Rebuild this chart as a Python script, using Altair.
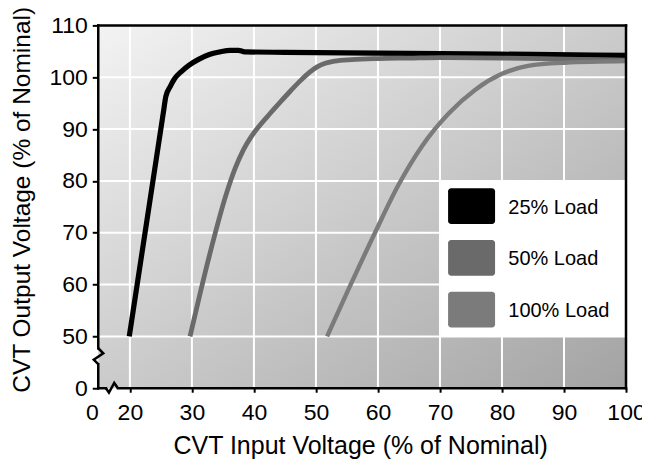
import altair as alt
import pandas as pd

FONT = "Liberation Sans"

# ---- data ----
load_labels = ["25% Load", "50% Load", "100% Load"]
load_colors = ["#000000", "#6a6a6a", "#7b7b7b"]
load_widths = [5.2, 4.4, 4.4]

x_25 = [19.9, 25.4, 25.8, 26.5, 27.2, 28.3, 29.5, 31.0, 32.8, 34.5, 36.2, 37.5, 38.5, 45, 55, 65, 75, 85, 100]
y_25 = [50, 93.2, 96.3, 98.2, 99.7, 101.1, 102.3, 103.4, 104.4, 104.9, 105.2, 105.2, 104.9, 104.8, 104.7, 104.6, 104.5, 104.4, 104.2]

x_50 = [29.7, 32.8, 35.5, 37.0, 38.3, 39.6, 41.0, 42.6, 44.1, 45.7, 47.3, 48.9, 50.2, 51.5, 53.0, 55.8, 60, 65, 70, 80, 90, 100]
y_50 = [50, 65.5, 77.3, 82.5, 86.0, 88.6, 90.8, 93.0, 95.0, 97.1, 99.1, 100.9, 102.0, 102.7, 103.1, 103.4, 103.6, 103.7, 103.8, 103.7, 103.5, 103.3]

x_100 = [51.8, 55.3, 59.6, 63.3, 67.1, 71.4, 75.7, 79.9, 84.2, 90.1, 100]
y_100 = [50, 59.2, 70.2, 79.2, 86.7, 93.0, 97.6, 100.6, 102.2, 102.8, 103.1]

x_ticks = [20, 30, 40, 50, 60, 70, 80, 90, 100]
y_ticks = [50, 60, 70, 80, 90, 100, 110]
x_break_tick = 14.9   # labelled "0" (axis break)
y_break_tick = 40     # labelled "0" (axis break)

rows = []
for lab, xs_, ys_ in zip(load_labels, [x_25, x_50, x_100], [y_25, y_50, y_100]):
    for a, b in zip(xs_, ys_):
        rows.append({"load": lab, "x": a, "y": b})
curves = pd.DataFrame(rows)
xgrid = pd.DataFrame({"v": x_ticks[:-1]})
ygrid = pd.DataFrame({"v": y_ticks[:-1]})
one = pd.DataFrame({"k": [0]})
legend_df = pd.DataFrame({"load": load_labels})

# ---- layout ----
W, H = 528, 363

xs = alt.Scale(domain=[x_break_tick, 100], nice=False, zero=False)
ys = alt.Scale(domain=[y_break_tick, 110], nice=False, zero=False)

x_axis = alt.Axis(
    values=[x_break_tick] + x_ticks,
    labelExpr="datum.value < 15 ? '0' : datum.label",
    labelAlign={"condition": {"test": "datum.value < 15", "value": "right"}, "value": "center"},
    tickOpacity={"condition": {"test": "datum.value < 15", "value": 0}, "value": 1},
    domain=False, grid=False, tickSize=4, tickWidth=2, tickColor="black",
    labelFont=FONT, labelFontSize=23, labelColor="black", labelPadding=26.8,
    labelBaseline="alphabetic", labelFlush=False, labelOverlap=False,
    title="CVT Input Voltage (% of Nominal)", titleFont=FONT, titleFontSize=25,
    titleFontWeight="normal", titleColor="black", titleX=262, titleY=65.5,
    titleAlign="center", titleBaseline="alphabetic", titleAngle=0,
)
y_axis = alt.Axis(
    values=[y_break_tick] + y_ticks,
    labelExpr="datum.value == 40 ? '0' : datum.label",
    domain=False, grid=False, tickSize=6, tickWidth=2, tickColor="black",
    labelFont=FONT, labelFontSize=23, labelColor="black", labelPadding=5,
    labelBaseline="middle", labelOverlap=False, labelFlush=False,
    title="CVT Output Voltage (% of Nominal)", titleFont=FONT, titleFontSize=24.5,
    titleFontWeight="normal", titleColor="black", titleX=-68.3, titleY=174,
    titleAlign="center", titleBaseline="alphabetic", titleAngle=-90,
)

bg = alt.Chart(one).mark_rect(
    color=alt.LinearGradient(
        gradient="linear",
        stops=[alt.GradientStop(color="#f3f3f3", offset=0),
               alt.GradientStop(color="#cbcbcb", offset=0.5),
               alt.GradientStop(color="#a3a3a3", offset=1)],
        x1=0, y1=0, x2=1, y2=1)
).encode(x=alt.value(0), x2=alt.value(W), y=alt.value(0), y2=alt.value(H))

vgrid = alt.Chart(xgrid).mark_rule(color="white", strokeWidth=2).encode(
    x=alt.X("v:Q", scale=xs, axis=x_axis))
hgrid = alt.Chart(ygrid).mark_rule(color="white", strokeWidth=2).encode(
    y=alt.Y("v:Q", scale=ys, axis=y_axis))

legend_bg = alt.Chart(one).mark_rect(color="white").encode(
    x=alt.value(342.7), x2=alt.value(W), y=alt.value(155.2), y2=alt.value(311.2))

lines = alt.Chart(curves).mark_line(interpolate="monotone", strokeCap="butt").encode(
    x=alt.X("x:Q", scale=xs, axis=x_axis),
    y=alt.Y("y:Q", scale=ys, axis=y_axis),
    stroke=alt.Stroke("load:N", scale=alt.Scale(domain=load_labels, range=load_colors), legend=None),
    size=alt.Size("load:N", scale=alt.Scale(domain=load_labels, range=load_widths), legend=None),
    order=alt.Order("x:Q"),
)

# hand-built legend (swatches + labels) drawn from the label list
fill_scale = alt.Scale(domain=load_labels, range=load_colors)
legend_layers = []
for i, lab in enumerate(load_labels):
    cy = 180.9 + i * 51.7
    base = alt.Chart(legend_df).transform_filter(alt.datum.load == lab)
    legend_layers.append(
        base.mark_rect(cornerRadius=3).encode(
            x=alt.value(350), x2=alt.value(397),
            y=alt.value(cy - 17.9), y2=alt.value(cy + 17.9),
            fill=alt.Fill("load:N", scale=fill_scale, legend=None),
        )
    )
    legend_layers.append(
        base.mark_text(align="left", baseline="middle", font=FONT, fontSize=20,
                       color="black").encode(
            x=alt.value(410.2), y=alt.value(cy + 1.5), text="load:N")
    )

def rule(**kw):
    return alt.Chart(one).mark_rule(color="black", strokeWidth=2.5, strokeCap="square").encode(**kw)

frame = [
    rule(x=alt.value(0), x2=alt.value(W), y=alt.value(0)),
    rule(x=alt.value(W), y=alt.value(0), y2=alt.value(H)),
    rule(x=alt.value(0), y=alt.value(0), y2=alt.value(323)),
    rule(x=alt.value(0), y=alt.value(339), y2=alt.value(H)),
    rule(x=alt.value(0), x2=alt.value(7.7), y=alt.value(H)),
    rule(x=alt.value(19.7), x2=alt.value(W), y=alt.value(H)),
]

ybreak = alt.Chart(one).mark_point(
    shape="M0,-1L0.625,-0.375L-0.5625,0.4375L0,1", size=256, filled=False,
    stroke="black", strokeWidth=2.5, opacity=1
).encode(x=alt.value(0), y=alt.value(331))
xbreak = alt.Chart(one).mark_point(
    shape="M-1,0.08L-0.5,0.8L0.38,-0.8L1,0.08", size=144, filled=False,
    stroke="black", strokeWidth=2.5, opacity=1
).encode(x=alt.value(13.7), y=alt.value(362.5))

chart = alt.layer(
    bg, vgrid, hgrid, legend_bg, lines, *legend_layers, *frame, ybreak, xbreak
).properties(
    width=W, height=H,
    padding={"left": 90.3, "top": 17.3, "right": 16, "bottom": 75},
    autosize=alt.AutoSizeParams(type="none"),
    background="white",
).configure_view(stroke=None)

chart.save("out.html", embed_options={"renderer": "svg", "actions": False})
